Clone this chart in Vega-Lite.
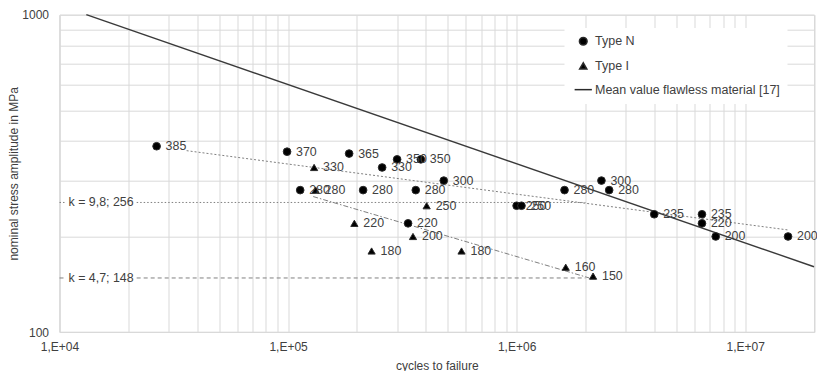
{
  "$schema": "https://vega.github.io/schema/vega-lite/v6.json",
  "width": 754.5,
  "height": 317.3,
  "autosize": {"type": "none"},
  "padding": {"left": 59.5, "top": 14.7, "right": 3, "bottom": 39},
  "background": "white",
  "config": {
    "view": {"stroke": "#d9d9d9", "strokeWidth": 1},
    "font": "Liberation Sans",
    "text": {"font": "Liberation Sans"},
    "legend": {
      "orient": "none", "legendX": 505, "legendY": 13.3,
      "direction": "vertical",
      "fillColor": "white",
      "padding": 7,
      "rowPadding": 10.7,
      "symbolOffset": 5.5,
      "labelOffset": 5.5,
      "labelLimit": 400,
      "labelFontSize": 12.5, "labelColor": "#404040", "labelFont": "Liberation Sans",
      "symbolOpacity": 1
    }
  },
  "datasets": {
    "points": [
      {"type": "Type N", "x": 26600, "y": 385},
      {"type": "Type N", "x": 99000, "y": 370},
      {"type": "Type N", "x": 185000, "y": 365},
      {"type": "Type N", "x": 300000, "y": 350},
      {"type": "Type N", "x": 381000, "y": 350},
      {"type": "Type N", "x": 258000, "y": 330},
      {"type": "Type N", "x": 480000, "y": 300},
      {"type": "Type N", "x": 113000, "y": 280},
      {"type": "Type N", "x": 213000, "y": 280},
      {"type": "Type N", "x": 362000, "y": 280},
      {"type": "Type N", "x": 1000000, "y": 250},
      {"type": "Type N", "x": 1050000, "y": 250},
      {"type": "Type N", "x": 335000, "y": 220},
      {"type": "Type N", "x": 1620000, "y": 280},
      {"type": "Type N", "x": 2350000, "y": 300},
      {"type": "Type N", "x": 2540000, "y": 280},
      {"type": "Type N", "x": 4000000, "y": 235},
      {"type": "Type N", "x": 6470000, "y": 235},
      {"type": "Type N", "x": 6470000, "y": 220},
      {"type": "Type N", "x": 7430000, "y": 200},
      {"type": "Type N", "x": 15400000, "y": 200},
      {"type": "Type I", "x": 130000, "y": 330},
      {"type": "Type I", "x": 132000, "y": 280},
      {"type": "Type I", "x": 404000, "y": 250},
      {"type": "Type I", "x": 195000, "y": 220},
      {"type": "Type I", "x": 352000, "y": 200},
      {"type": "Type I", "x": 232000, "y": 180},
      {"type": "Type I", "x": 574000, "y": 180},
      {"type": "Type I", "x": 1640000, "y": 160},
      {"type": "Type I", "x": 2160000, "y": 150}
    ],
    "lines": [
      {"s": "mean", "seg": "a", "x": 13100, "y": 1000},
      {"s": "mean", "seg": "a", "x": 20000000, "y": 160.6},
      {"s": "trendN", "seg": "a", "x": 35990, "y": 372.8},
      {"s": "trendN", "seg": "a", "x": 15400000, "y": 209.7},
      {"s": "trendI", "seg": "a", "x": 128800, "y": 267.2},
      {"s": "trendI", "seg": "a", "x": 2080000, "y": 148},
      {"s": "h256", "seg": "a", "x": 10000, "y": 256},
      {"s": "h256", "seg": "a", "x": 10570, "y": 256},
      {"s": "h256", "seg": "b", "x": 21760, "y": 256},
      {"s": "h256", "seg": "b", "x": 2000000, "y": 256},
      {"s": "h148", "seg": "a", "x": 10000, "y": 148},
      {"s": "h148", "seg": "a", "x": 10570, "y": 148},
      {"s": "h148", "seg": "b", "x": 21760, "y": 148},
      {"s": "h148", "seg": "b", "x": 2000000, "y": 148}
    ],
    "notes": [
      {"x": 10000, "y": 256, "t": "k = 9,8; 256"},
      {"x": 10000, "y": 148, "t": "k = 4,7; 148"}
    ]
  },
  "encoding": {
    "x": {
      "field": "x", "type": "quantitative",
      "scale": {"type": "log", "domain": [10000, 20000000], "nice": false},
      "axis": {
        "values": [10000, 20000, 30000, 40000, 50000, 60000, 70000, 80000, 90000,
                   100000, 200000, 300000, 400000, 500000, 600000, 700000, 800000, 900000,
                   1000000, 2000000, 3000000, 4000000, 5000000, 6000000, 7000000, 8000000, 9000000,
                   10000000, 20000000],
        "labelExpr": "abs(log(datum.value)/LN10 - round(log(datum.value)/LN10)) < 0.001 ? '1,E+0' + round(log(datum.value)/LN10) : ''",
        "labelOverlap": false,
        "labelFlush": false,
        "grid": true, "gridColor": "#d9d9d9", "gridWidth": 1,
        "ticks": false,
        "domainColor": "#d9d9d9",
        "labelFontSize": 12, "labelColor": "#404040", "labelPadding": 9,
        "labelFont": "Liberation Sans",
        "title": "cycles to failure",
        "titleFontSize": 12, "titleFontWeight": "normal", "titleColor": "#404040",
        "titleFont": "Liberation Sans", "titlePadding": 8
      }
    },
    "y": {
      "field": "y", "type": "quantitative",
      "scale": {"type": "log", "domain": [100, 1000], "nice": false},
      "axis": {
        "values": [100, 200, 300, 400, 500, 600, 700, 800, 900, 1000],
        "labelExpr": "datum.value == 100 || datum.value == 1000 ? '' + datum.value : ''",
        "labelOverlap": false,
        "labelFlush": false,
        "grid": true, "gridColor": "#d9d9d9", "gridWidth": 1,
        "ticks": false,
        "domainColor": "#d9d9d9",
        "labelFontSize": 12, "labelColor": "#404040", "labelPadding": 11,
        "labelFont": "Liberation Sans",
        "title": "nominal stress amplitude in MPa",
        "titleFontSize": 12, "titleFontWeight": "normal", "titleColor": "#404040",
        "titleFont": "Liberation Sans", "titlePadding": 1
      }
    }
  },
  "layer": [
    {
      "data": {"name": "lines"},
      "transform": [{"filter": "datum.s == 'h256'"}],
      "mark": {"type": "line", "color": "#808080", "strokeWidth": 1, "strokeDash": [1.5, 2]},
      "encoding": {"detail": {"field": "seg"}}
    },
    {
      "data": {"name": "lines"},
      "transform": [{"filter": "datum.s == 'h148'"}],
      "mark": {"type": "line", "color": "#808080", "strokeWidth": 1, "strokeDash": [4, 3]},
      "encoding": {"detail": {"field": "seg"}}
    },
    {
      "data": {"name": "lines"},
      "transform": [{"filter": "datum.s == 'trendN'"}],
      "mark": {"type": "line", "color": "#808080", "strokeWidth": 1, "strokeDash": [2, 2]},
      "encoding": {}
    },
    {
      "data": {"name": "lines"},
      "transform": [{"filter": "datum.s == 'trendI'"}],
      "mark": {"type": "line", "color": "#808080", "strokeWidth": 1, "strokeDash": [5, 2, 1.5, 2]},
      "encoding": {}
    },
    {
      "data": {"name": "lines"},
      "transform": [{"filter": "datum.s == 'mean'"}],
      "mark": {"type": "line", "color": "#3a3a3a", "strokeWidth": 1.4},
      "encoding": {}
    },
    {
      "data": {"name": "notes"},
      "mark": {"type": "text", "align": "left", "baseline": "middle", "dx": 9, "fontSize": 12.4, "color": "#404040", "font": "Liberation Sans"},
      "encoding": {"text": {"field": "t"}}
    },
    {
      "data": {"name": "points"},
      "mark": {"type": "point", "filled": true, "opacity": 1, "fill": "#000000", "stroke": "#2a2a2a", "strokeWidth": 1},
      "encoding": {
        "shape": {
          "field": "type", "type": "nominal",
          "scale": {"domain": ["Type N", "Type I", "Mean value flawless material [17]"], "range": ["circle", "triangle-up", "M-2.6,0L2.6,0"]},
          "legend": {"title": null}
        },
        "size": {
          "field": "type", "type": "nominal",
          "scale": {"domain": ["Type N", "Type I", "Mean value flawless material [17]"], "range": [59, 44, 78]},
          "legend": {"title": null}
        }
      }
    },
    {
      "data": {"name": "points"},
      "mark": {"type": "text", "align": "left", "baseline": "middle", "dx": 9, "fontSize": 12.4, "color": "#404040", "font": "Liberation Sans"},
      "encoding": {"text": {"field": "y", "type": "quantitative", "format": "d"}}
    }
  ]
}
